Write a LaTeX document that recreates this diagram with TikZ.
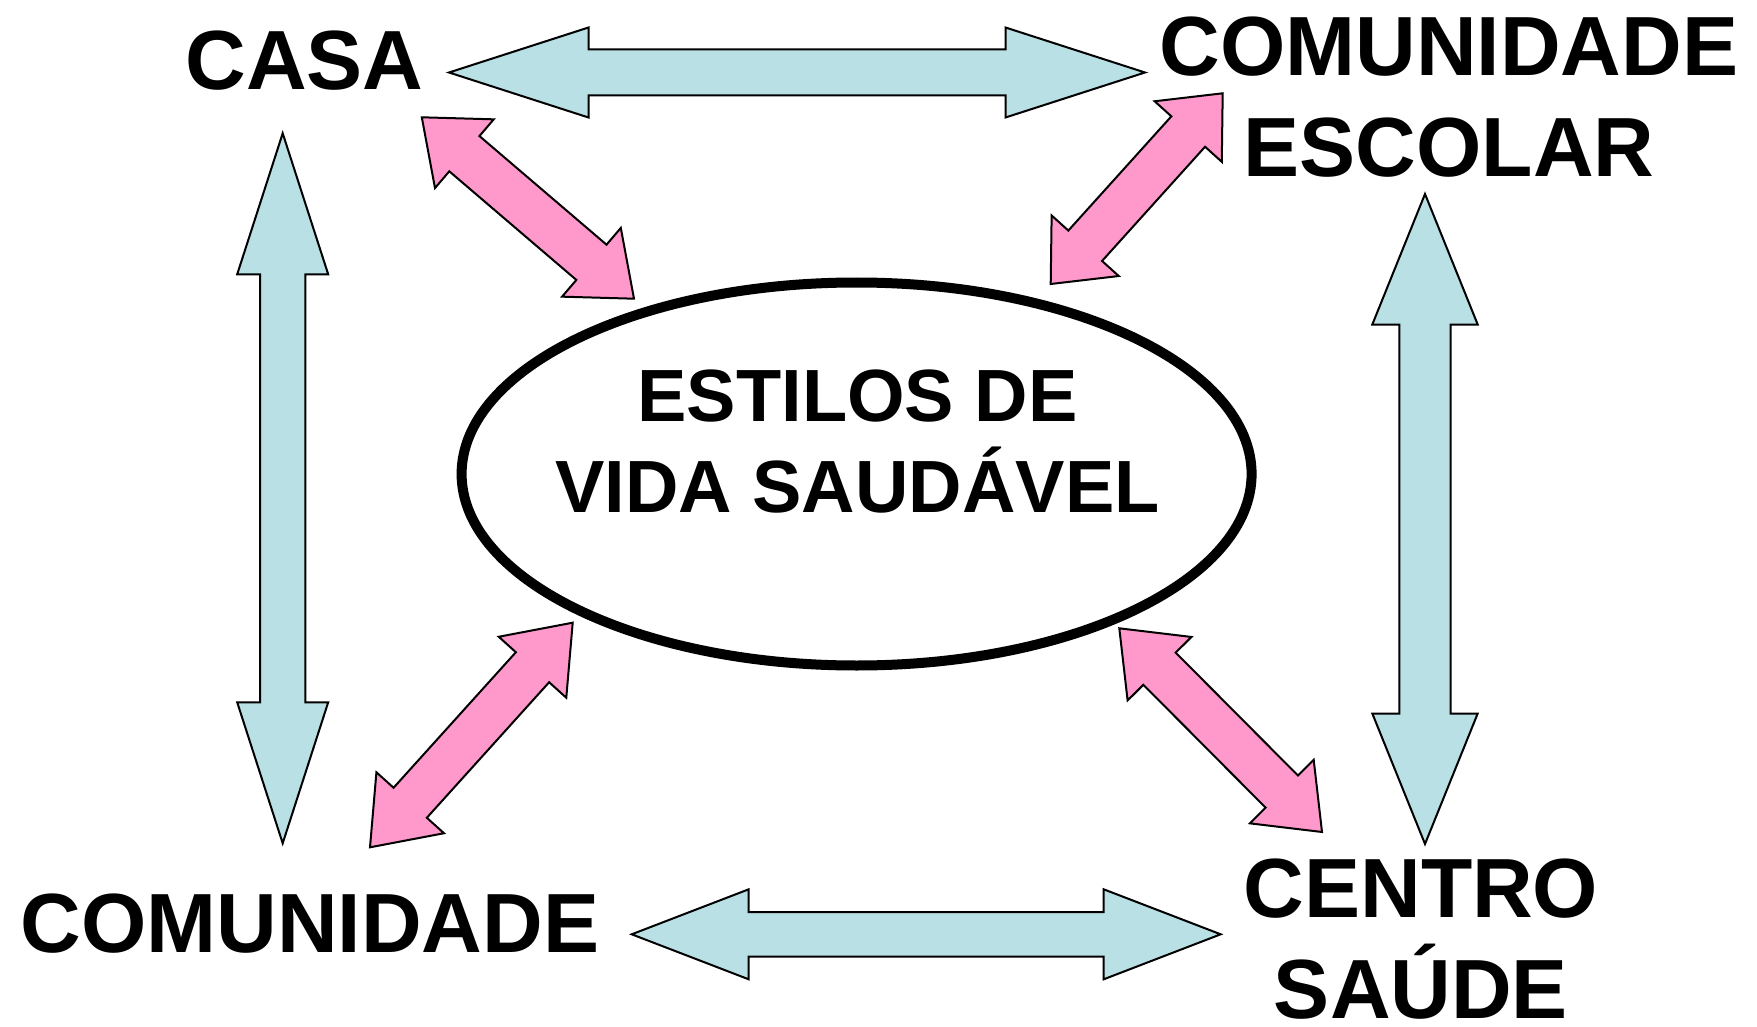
\documentclass[tikz,border=0pt]{standalone}
\usepackage{fontspec}
\setmainfont{Liberation Sans}
\usetikzlibrary{calc,shapes.geometric}
\definecolor{pinkfill}{RGB}{255,153,204}
\definecolor{bluefill}{RGB}{185,224,228}
% #1 style, #2 from, #3 to, #4 shaft half width, #5 head half width, #6 head length
\newcommand{\dblblock}[6]{%
  \filldraw[#1] (#2)
   -- ($(#2)!#6!(#3)!#5!90:(#3)$)
   -- ($(#2)!#6!(#3)!#4!90:(#3)$)
   -- ($(#3)!#6!(#2)!#4!-90:(#2)$)
   -- ($(#3)!#6!(#2)!#5!-90:(#2)$)
   -- (#3)
   -- ($(#3)!#6!(#2)!#5!90:(#2)$)
   -- ($(#3)!#6!(#2)!#4!90:(#2)$)
   -- ($(#2)!#6!(#3)!#4!-90:(#3)$)
   -- ($(#2)!#6!(#3)!#5!-90:(#3)$)
   -- cycle;}
\tikzset{
  bluearrow/.style={fill=bluefill, draw=black, line width=2pt, line join=miter},
  pinkarrow/.style={fill=pinkfill, draw=black, line width=2pt, line join=miter},
  lbl/.style={font=\fontsize{84}{101}\selectfont\bfseries, inner sep=0pt, align=center},
  midlbl/.style={font=\fontsize{74}{91}\selectfont\bfseries, inner sep=0pt, align=center},
  hub/.style={ellipse, draw=black, line width=10pt, inner sep=0pt, minimum width=790pt, minimum height=383pt}
}
\begin{document}
\begin{tikzpicture}[x=1pt, y=-1pt]
\useasboundingbox (0,0) rectangle (1757,1027);
\fill[white] (0,0) rectangle (1757,1027);
% central ellipse
\node[hub] (hub) at (856.6,474) {};
% arrow end points
\coordinate (topL) at (449,72.5);
\coordinate (topR) at (1145,72.5);
\coordinate (leftT) at (282.7,133.3);
\coordinate (leftB) at (282.7,843.3);
\coordinate (rightT) at (1425,194);
\coordinate (rightB) at (1425,844);
\coordinate (botL) at (631.7,934.3);
\coordinate (botR) at (1220.7,934.3);
\coordinate (pcasaA) at (421.8,117.3);
\coordinate (pcasaB) at (634,298.7);
\coordinate (pescA) at (1222.7,93.3);
\coordinate (pescB) at (1050.7,284);
\coordinate (pcomA) at (572.7,622.7);
\coordinate (pcomB) at (370,847.3);
\coordinate (psauA) at (1119.3,628.3);
\coordinate (psauB) at (1322,832);
% blue double arrows
\dblblock{bluearrow}{topL}{topR}{23pt}{45pt}{139.5pt}
\dblblock{bluearrow}{leftT}{leftB}{22.7pt}{45.5pt}{141pt}
\dblblock{bluearrow}{rightT}{rightB}{25.7pt}{52.7pt}{130.5pt}
\dblblock{bluearrow}{botL}{botR}{22.2pt}{45pt}{117pt}
% pink double arrows
\dblblock{pinkarrow}{pcasaA}{pcasaB}{23.2pt}{45.2pt}{56pt}
\dblblock{pinkarrow}{pescA}{pescB}{22.7pt}{45.2pt}{51.5pt}
\dblblock{pinkarrow}{pcomA}{pcomB}{22.4pt}{45.5pt}{60pt}
\dblblock{pinkarrow}{psauA}{psauB}{22.8pt}{45pt}{57pt}
% labels (base anchor = baseline of the last line)
\node[lbl, anchor=base] (casa) at (304.5,89.6) {CASA};
\node[lbl, anchor=base] (escola) at (1449,177) {COMUNIDADE\\ESCOLAR};
\node[lbl, anchor=base] (comunidade) at (310,952.4) {COMUNIDADE};
\node[lbl, anchor=base] (saude) at (1421,1018) {CENTRO\\SAÚDE};
\node[midlbl, anchor=base] (estilos) at (857.5,512) {ESTILOS DE\\VIDA SAUDÁVEL};
\end{tikzpicture}
\end{document}
